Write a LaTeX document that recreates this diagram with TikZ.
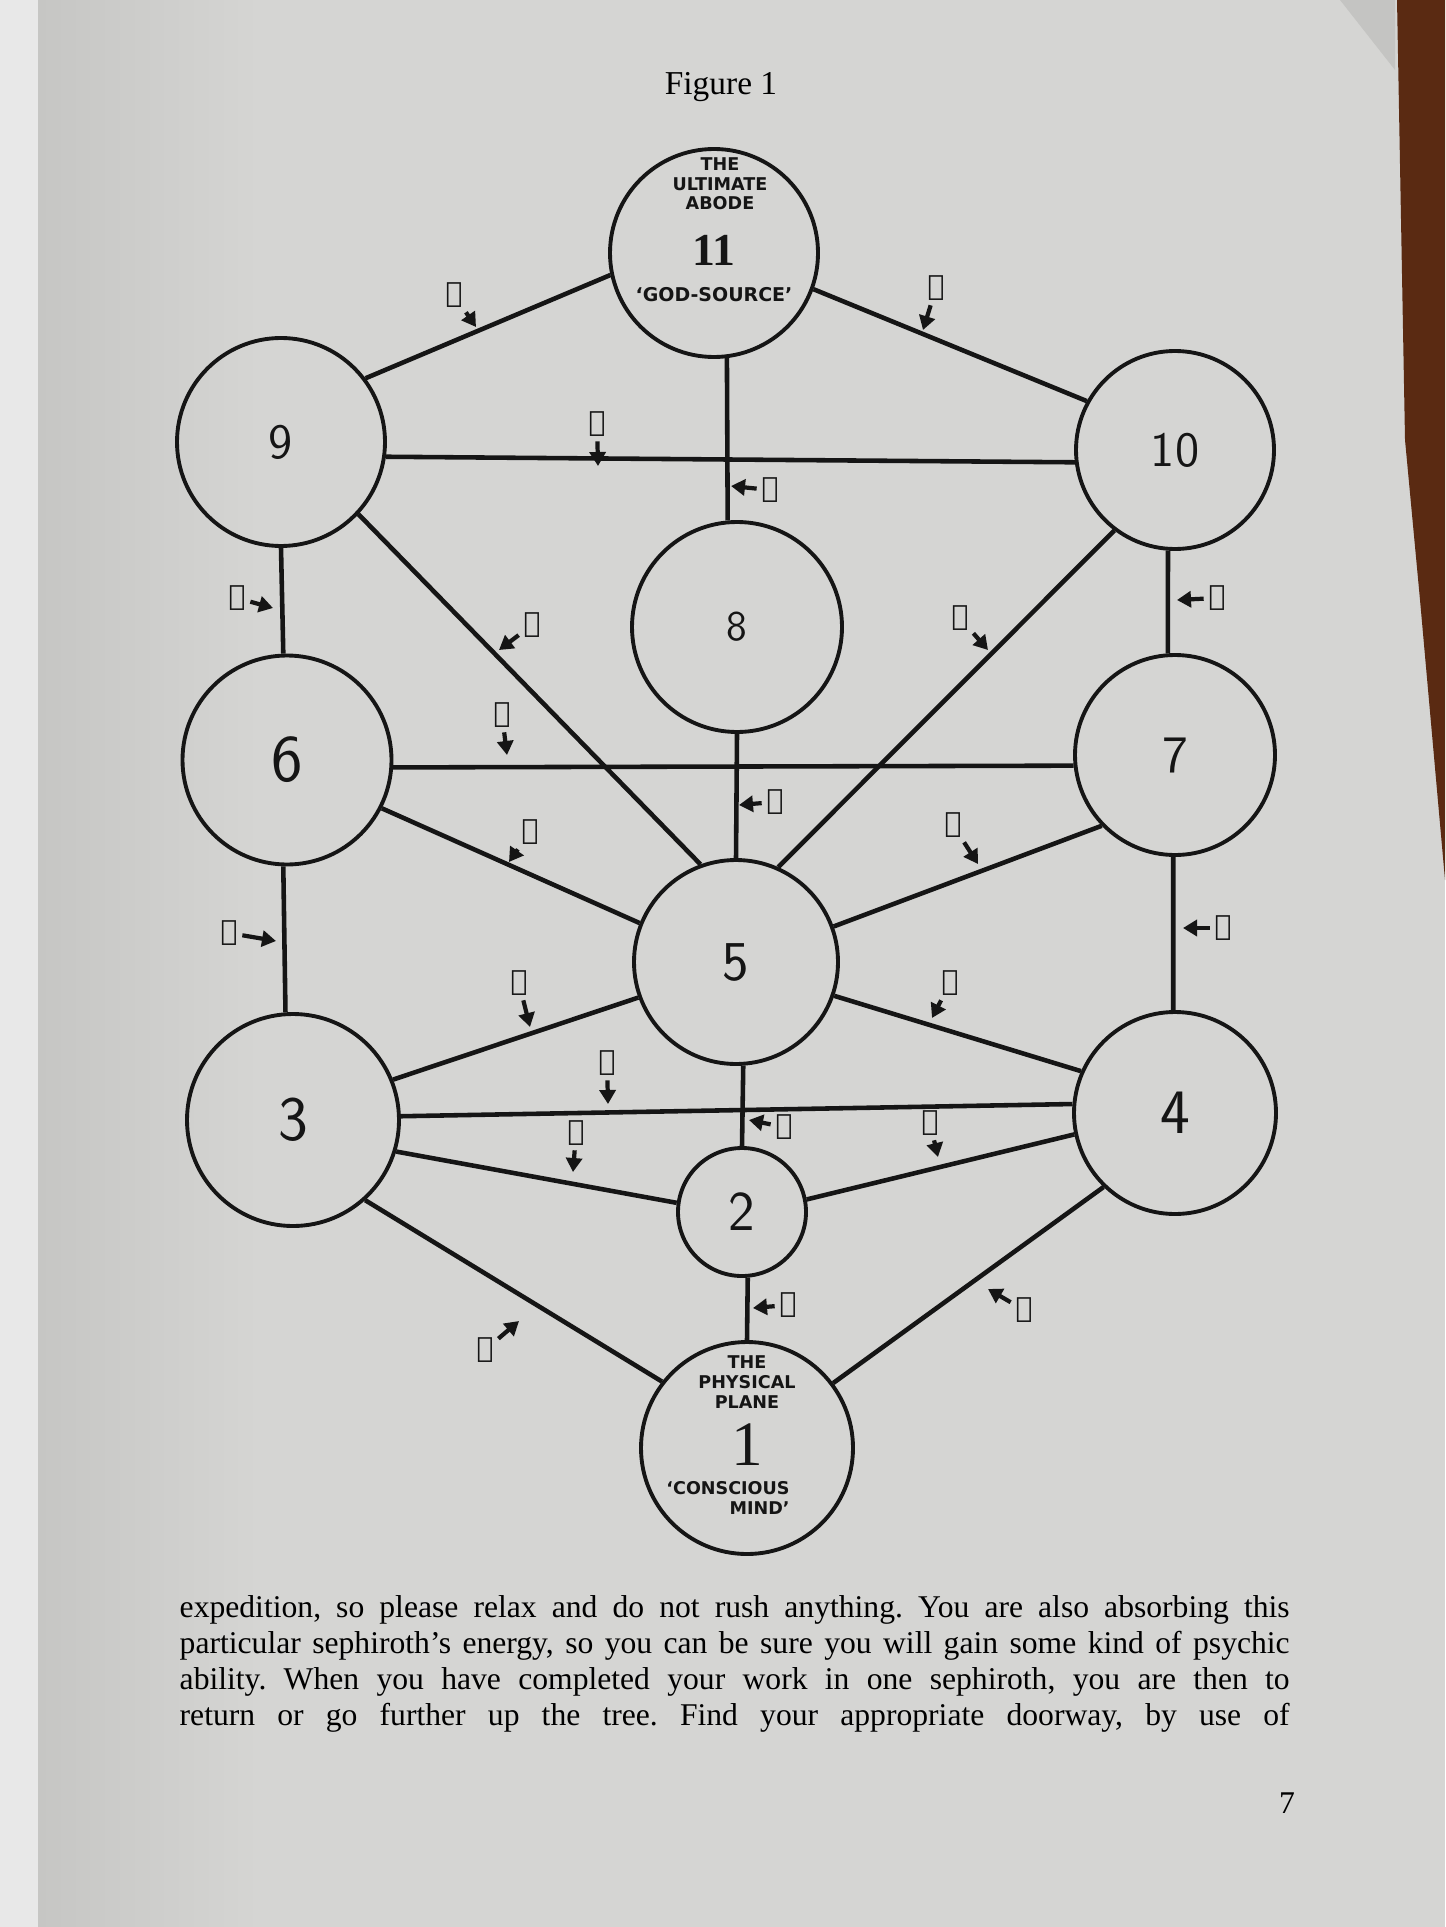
\documentclass[tikz,border=0pt]{standalone}
\usepackage{fontspec}
\setmainfont{Liberation Serif}
\newfontfamily\handfont{DejaVu Sans}
\newfontfamily\runefont{DejaVu Sans}
\usetikzlibrary{arrows.meta}
\definecolor{pagebg}{HTML}{D5D5D3}
\definecolor{pageshade}{HTML}{C6C6C4}
\definecolor{pageedge}{HTML}{E8E8E8}
\definecolor{wood}{HTML}{5A2A12}
\definecolor{ink}{HTML}{151515}

\begin{document}
\begin{tikzpicture}[x=0.1mm, y=-0.1mm, >=latex,
        sephira/.style={circle, draw=ink, line width=1.1pt, minimum size=#1, inner sep=0pt},
        link/.style={draw=ink, line width=1.3pt},
        rune/.style={font=\runefont\fontsize{8}{8}\selectfont, inner sep=1.2pt, text=ink},
        rarr/.style={-{Triangle[length=1.4mm,width=1.6mm]}, line width=1.2pt, draw=ink},
        num/.style={font=\sffamily\fontsize{#1}{#1}\selectfont, text=ink},
        hand/.style={font=\handfont\bfseries\fontsize{5}{5.6}\selectfont, align=center, inner sep=0pt, text=ink},
        prose/.style={font=\frenchspacing\fontsize{9}{10.25}\selectfont, align=left, inner sep=0pt}]
        % Page
        \useasboundingbox (0,0) rectangle (1445,1927);
        \fill[pagebg] (0,0) rectangle (1445,1927);
        \shade[left color=pageshade, right color=pagebg] (38,0) rectangle (260,1927);
        \fill[pageedge] (0,0) rectangle (38,1927);
        \fill[wood] (1397,0) -- (1445,0) -- (1445,880) -- (1420,600) -- (1405,440) -- cycle;
        \fill[pagebg!92!black] (1340,0) -- (1395,0) -- (1395,70) -- cycle;

        % Nodes
        \node[font=\fontsize{9.5}{10}\selectfont] (fig) at (721,87) {Figure 1};
        \node[sephira=20.8mm] (n11) at (714,253) {};
        \node[sephira=20.8mm, num=14] (n9) at (281,442) {9};
        \node[sephira=19.8mm, num=14] (n10) at (1175,450) {10};
        \node[sephira=21mm, num=12] (n8) at (737,627) {8};
        \node[sephira=20.9mm, num=19] (n6) at (287,760) {6};
        \node[sephira=20mm, num=15] (n7) at (1175,755) {7};
        \node[sephira=20.4mm, num=16] (n5) at (736,962) {5};
        \node[sephira=21.2mm, num=18] (n3) at (293,1120) {3};
        \node[sephira=20.2mm, num=18] (n4) at (1175,1113) {4};
        \node[sephira=12.8mm, num=16] (n2) at (742,1212) {2};
        \node[sephira=21.2mm] (n1) at (747,1448) {};

        % Texts in 11 and 1
        \node[hand] (t11) at (720,184) {THE\\ULTIMATE\\ABODE};
        \node[font=\fontsize{13}{13}\selectfont\bfseries, text=ink] (g11) at (714,250) {11};
        \node[hand, font=\handfont\bfseries\fontsize{5.4}{6}\selectfont] (s11) at (714,295) {‘GOD-SOURCE’};
        \node[hand] (t1) at (747,1382) {THE\\PHYSICAL\\PLANE};
        \node[font=\fontsize{18}{18}\selectfont, text=ink] (g1) at (747,1445) {1};
        \node[hand, align=right] (s1) at (728,1498) {‘CONSCIOUS\\MIND’};

        % Paths
        \draw[link] (n11.192.6) -- (n9.37.6);
        \draw[link] (n11.-20.4) -- (n10.151.5);
        \draw[link] (n11.-83) -- (n8.95);
        \draw[link] (n9.-8) -- (n10.187.6);
        \draw[link] (n9.-90) -- (n6.92);
        \draw[link] (n10.-94) -- (n7.94);
        \draw[link] (n9.-43) -- (n5.110);
        \draw[link] (n10.-127) -- (n5.66);
        \draw[link] (n8.south) -- (n5.north);
        \draw[link] (n6.-4) -- (n7.186);
        \draw[link] (n6.-27.5) -- (n5.158.6);
        \draw[link] (n7.224) -- (n5.20.8);
        \draw[link] (n6.-92) -- (n3.94);
        \draw[link] (n7.-91) -- (n4.91);
        \draw[link] (n5.200) -- (n3.22);
        \draw[link] (n5.-19) -- (n4.156);
        \draw[link] (n5.-86) -- (n2.north);
        \draw[link] (n3.2) -- (n4.175.5);
        \draw[link] (n3.-17.6) -- (n2.172);
        \draw[link] (n2.11.7) -- (n4.192);
        \draw[link] (n3.-48) -- (n1.142);
        \draw[link] (n2.-85) -- (n1.north);
        \draw[link] (n4.226) -- (n1.37);

        % Runes
        \node[rune] (rs) at (454,295) {ᛋ};
        \node[rune] (rt) at (936,288) {ᛏ};
        \node[rune] (re) at (597,424) {ᛖ};
        \node[rune] (rb) at (770,490) {ᛒ};
        \node[rune] (rz) at (237,598) {ᛉ};
        \node[rune] (rl) at (532,625) {ᛚ};
        \node[rune] (rd) at (502,715) {ᛞ};
        \node[rune] (rg) at (775,802) {ᚷ};
        \node[rune] (rng) at (530,832) {ᛜ};
        \node[rune] (ro) at (960,618) {ᛟ};
        \node[rune] (rth) at (1217,598) {ᚦ};
        \node[rune] (rm) at (953,825) {ᛗ};
        \node[rune] (rp) at (229,933) {ᛈ};
        \node[rune] (rf) at (1223,928) {ᚠ};
        \node[rune] (rj) at (519,983) {ᛃ};
        \node[rune] (rr) at (950,983) {ᚱ};
        \node[rune] (ri) at (607,1063) {ᛁ};
        \node[rune] (rn) at (576,1133) {ᚾ};
        \node[rune] (rk) at (930,1123) {ᚲ};
        \node[rune] (rh) at (784,1127) {ᚺ};
        \node[rune] (rw) at (788,1305) {ᚹ};
        \node[rune] (ru) at (485,1350) {ᚢ};
        \node[rune] (ra) at (1024,1310) {ᚨ};

        % Arrows
        \coordinate (as) at (476,327);   \draw[rarr] (rs) -- (as);
        \coordinate (at) at (923,330);   \draw[rarr] (rt) -- (at);
        \coordinate (ae) at (598,466);   \draw[rarr] (re) -- (ae);
        \coordinate (ab) at (731,486);   \draw[rarr] (rb) -- (ab);
        \coordinate (az) at (273,608);   \draw[rarr] (rz) -- (az);
        \coordinate (al) at (499,650);   \draw[rarr] (rl) -- (al);
        \coordinate (ad) at (507,755);   \draw[rarr] (rd) -- (ad);
        \coordinate (ag) at (739,805);   \draw[rarr] (rg) -- (ag);
        \coordinate (ang) at (509,862);  \draw[rarr] (rng) -- (ang);
        \coordinate (ao) at (988,650);   \draw[rarr] (ro) -- (ao);
        \coordinate (ath) at (1177,600); \draw[rarr] (rth) -- (ath);
        \coordinate (am) at (978,864);   \draw[rarr] (rm) -- (am);
        \coordinate (ap) at (276,941);   \draw[rarr] (rp) -- (ap);
        \coordinate (af) at (1183,928);  \draw[rarr] (rf) -- (af);
        \coordinate (aj) at (530,1027);  \draw[rarr] (rj) -- (aj);
        \coordinate (ar) at (932,1018);  \draw[rarr] (rr) -- (ar);
        \coordinate (ai) at (608,1104);  \draw[rarr] (ri) -- (ai);
        \coordinate (an) at (573,1172);  \draw[rarr] (rn) -- (an);
        \coordinate (ak) at (938,1157);  \draw[rarr] (rk) -- (ak);
        \coordinate (ah) at (749,1120);  \draw[rarr] (rh) -- (ah);
        \coordinate (aw) at (753,1308);  \draw[rarr] (rw) -- (aw);
        \coordinate (au) at (519,1321);  \draw[rarr] (ru) -- (au);
        \coordinate (aa) at (988,1289);  \draw[rarr] (ra) -- (aa);

        % Text below
        \node[prose, anchor=north west] (body) at (179,1595) {%
            \makebox[111mm][s]{expedition, so please relax and do not rush anything. You are also absorbing this}\\
            \makebox[111mm][s]{particular sephiroth’s energy, so you can be sure you will gain some kind of psychic}\\
            \makebox[111mm][s]{ability. When you have completed your work in one sephiroth, you are then to}\\
            \makebox[111mm][s]{return or go further up the tree. Find your appropriate doorway, by use of}};
        \node[font=\fontsize{9}{10}\selectfont] (pg) at (1287,1803) {7};
    \end{tikzpicture}
\end{document}
